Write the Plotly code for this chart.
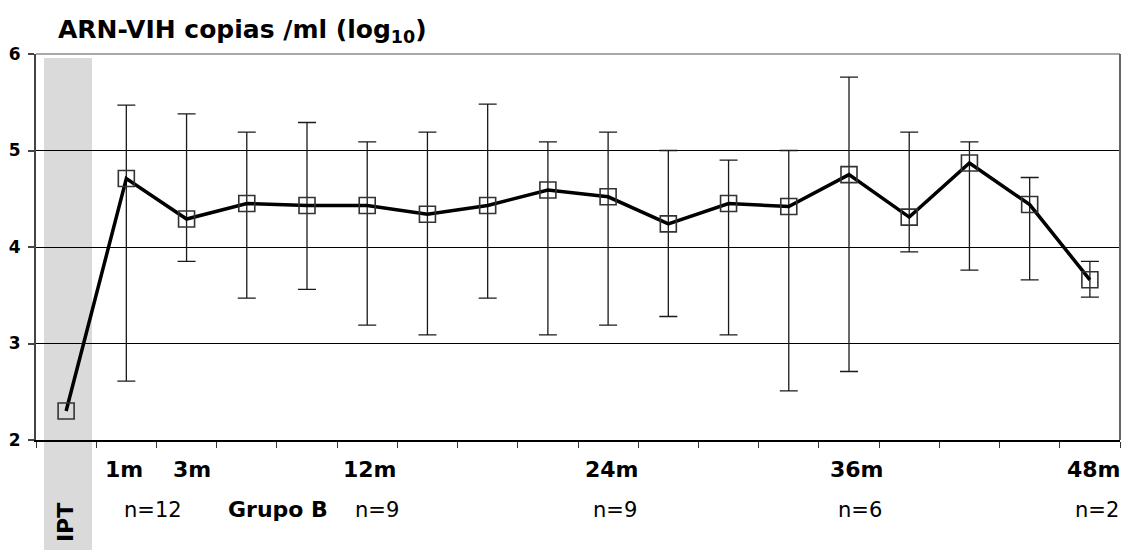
import plotly.graph_objects as go

# ---- data ----
categories = ["IPT", "1m", "3m", "6m", "9m", "12m", "15m", "18m", "21m", "24m",
              "27m", "30m", "33m", "36m", "39m", "42m", "45m", "48m"]
mean_log = [2.30, 4.71, 4.29, 4.45, 4.43, 4.43, 4.34, 4.43, 4.59, 4.52,
            4.24, 4.45, 4.42, 4.75, 4.31, 4.87, 4.44, 3.66]
# error-bar extremes (available from 1m onwards)
err_categories = categories[1:]
err_high = [5.47, 5.38, 5.19, 5.29, 5.09, 5.19, 5.48, 5.09, 5.19, 5.00,
            4.90, 5.00, 5.76, 5.19, 5.09, 4.72, 3.85]
err_low = [2.61, 3.85, 3.47, 3.56, 3.19, 3.09, 3.47, 3.09, 3.19, 3.28,
           3.09, 2.51, 2.71, 3.95, 3.76, 3.66, 3.48]

time_labels = ["1m", "3m", "12m", "24m", "36m", "48m"]
n_label_cats = ["1m", "12m", "24m", "36m", "48m"]
n_labels = ["n=12", "n=9", "n=9", "n=6", "n=2"]
y_ticks = [2, 3, 4, 5, 6]

FONT = "DejaVu Sans"

err_mean = mean_log[1:]
plus = [h - m for h, m in zip(err_high, err_mean)]
minus = [m - l for m, l in zip(err_mean, err_low)]

fig = go.Figure()

# error bars (separate trace, no visible markers)
fig.add_trace(go.Scatter(
    x=err_categories, y=err_mean, mode="markers",
    marker=dict(size=1, color="rgba(0,0,0,0)"),
    error_y=dict(type="data", array=plus, arrayminus=minus, symmetric=False,
                 color="#1a1a1a", thickness=1.3, width=9),
    showlegend=False, hoverinfo="skip"))

# main line
fig.add_trace(go.Scatter(
    x=categories, y=mean_log, mode="lines+markers",
    line=dict(color="black", width=3.5),
    marker=dict(symbol="square-open", size=16, color="#333",
                line=dict(width=1.6)),
    showlegend=False))

fig.update_layout(
    width=1128, height=550,
    margin=dict(l=36, r=8, t=54, b=110),
    paper_bgcolor="white", plot_bgcolor="white",
    font=dict(family=FONT, color="black"),
    xaxis=dict(type="category", categoryorder="array", categoryarray=categories,
               range=[-0.5, len(categories) - 0.5],
               showgrid=False, showticklabels=False, zeroline=False,
               showline=True, linecolor="black", linewidth=1.5,
               ticks="outside", tickson="boundaries", ticklen=6,
               tickcolor="#333", tickwidth=1),
    yaxis=dict(range=[2, 6], tickvals=y_ticks, showgrid=True,
               gridcolor="black", gridwidth=1, zeroline=False,
               showline=True, linecolor="#444", linewidth=2,
               ticks="outside", ticklen=6, tickcolor="#444", tickwidth=1.5,
               ticklabelstandoff=4,
               tickfont=dict(family=FONT, size=17, weight="bold", color="black")),
)

# grey IPT band (extends below the axis)
fig.add_shape(type="rect", xref="paper", yref="paper",
              x0=0.0074, x1=0.0517, y0=-0.3, y1=0.9896,
              fillcolor="#dadada", line=dict(width=0), layer="below")
# top and right frame lines
fig.add_shape(type="line", xref="paper", yref="paper", x0=0, x1=1, y0=1, y1=1,
              line=dict(color="#a8a8a8", width=2))
fig.add_shape(type="line", xref="paper", yref="paper", x0=1, x1=1, y0=0, y1=1,
              line=dict(color="#666", width=2))

# title
fig.add_annotation(text="<b>ARN-VIH copias /ml (log<sub>10</sub>)</b>",
                   xref="paper", yref="paper", x=0.018, y=1.06,
                   xanchor="left", yanchor="middle", showarrow=False,
                   font=dict(family=FONT, size=25, color="black"))

# time labels
time_shift = [-2, 5, 3, 4, 8, 4]
for lab, sh in zip(time_labels, time_shift):
    fig.add_annotation(text=f"<b>{lab}</b>", x=lab, xref="x", yref="paper",
                       y=-0.077, xanchor="center", yanchor="middle",
                       xshift=sh, showarrow=False,
                       font=dict(family=FONT, size=22, color="black"))

# n labels
n_shift = [27, 10, 7, 11, 7]
for cat, lab, sh in zip(n_label_cats, n_labels, n_shift):
    fig.add_annotation(text=lab, x=cat, xref="x", yref="paper",
                       y=-0.181, xanchor="center", yanchor="middle",
                       xshift=sh, showarrow=False,
                       font=dict(family=FONT, size=21, color="black"))

fig.add_annotation(text="<b>Grupo B</b>", x="6m", xref="x", yref="paper",
                   y=-0.181, xanchor="center", yanchor="middle", xshift=31,
                   showarrow=False, font=dict(family=FONT, size=22, color="black"))

fig.add_annotation(text="<b>IPT</b>", x="IPT", xref="x", yref="paper",
                   y=-0.215, xanchor="center", yanchor="middle", textangle=-90,
                   showarrow=False, font=dict(family=FONT, size=22, color="black"))

fig.write_html("out.html",
               config={"displayModeBar": False},
               post_script="document.body.style.margin='0';"
                           "document.body.style.overflow='hidden';")
